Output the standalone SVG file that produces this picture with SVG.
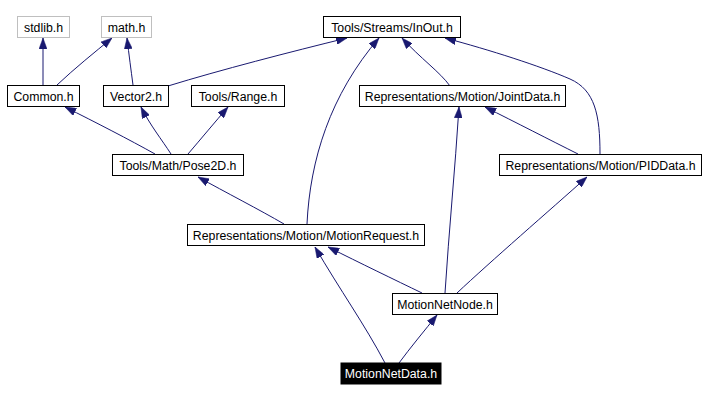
<svg xmlns="http://www.w3.org/2000/svg" width="707" height="401" viewBox="0 0 707 401">
<style>
.n rect{fill:#fff;stroke:#000;stroke-width:1}
.n.ext rect{stroke:#bfbfbf}
.n.cur rect{fill:#000;stroke:#000}
.n text{font-family:"Liberation Sans",Arial,sans-serif;font-size:12.3px;text-anchor:middle;fill:#000}
.n.cur text{fill:#fff}
.e path{fill:none;stroke:#191970;stroke-width:1;marker-end:url(#ah)}
</style>
<defs>
<marker id="ah" markerUnits="userSpaceOnUse" markerWidth="11" markerHeight="8" viewBox="0 0 11 8" refX="11" refY="4" orient="auto">
<path d="M0,0 L11,4 L0,8 z" fill="#191970" stroke="#191970" stroke-width="0.5"/>
</marker>
</defs>
<rect width="707" height="401" fill="#fff"/>
<g id="edges" class="e">
<path d="M43,85 L43,38"/>
<path d="M57,85 C75,68 95,52 112,38"/>
<path d="M133,85 C131,70 129,55 127,38"/>
<path d="M168,86 C220,70 290,52 347,38"/>
<path d="M155,154 C130,140 95,122 65,107"/>
<path d="M171,154 C162,140 150,125 141,107"/>
<path d="M188,154 C200,140 215,122 228,107"/>
<path d="M284,224 C260,210 225,192 198,177"/>
<path d="M307,224 C310,160 330,95 379,38"/>
<path d="M450,86 C440,72 420,58 402,38"/>
<path d="M600,154 C600,115 595,90 570,79 C540,66 490,50 445,38"/>
<path d="M578,154 C550,140 515,122 485,107"/>
<path d="M445,293 C449,230 455,170 459,107"/>
<path d="M457,293 C490,262 550,210 587,177"/>
<path d="M422,293 C395,280 360,263 328,247"/>
<path d="M385,363 C365,325 340,290 315,247"/>
<path d="M399,363 C410,348 425,330 437,315"/>
</g>
<g id="stdlib" class="n ext"><rect x="17.5" y="16.5" width="52" height="21"/><text x="43.5" y="31.5">stdlib.h</text></g>
<g id="math" class="n ext"><rect x="101.5" y="16.5" width="50" height="21"/><text x="126.5" y="31.5">math.h</text></g>
<g id="inout" class="n"><rect x="323.5" y="16.5" width="137" height="21"/><text x="392" y="31.5">Tools/Streams/InOut.h</text></g>
<g id="common" class="n"><rect x="7.5" y="85.5" width="72" height="21"/><text x="43.5" y="100.5">Common.h</text></g>
<g id="vector2" class="n"><rect x="103.5" y="85.5" width="65" height="21"/><text x="136" y="100.5">Vector2.h</text></g>
<g id="range" class="n"><rect x="191.5" y="85.5" width="93" height="21"/><text x="238" y="100.5">Tools/Range.h</text></g>
<g id="jointdata" class="n"><rect x="359.5" y="85.5" width="206" height="21"/><text x="462.5" y="100.5">Representations/Motion/JointData.h</text></g>
<g id="pose2d" class="n"><rect x="112.5" y="154.5" width="131" height="21"/><text x="178" y="169.5">Tools/Math/Pose2D.h</text></g>
<g id="piddata" class="n"><rect x="499.5" y="154.5" width="202" height="21"/><text x="600.5" y="169.5">Representations/Motion/PIDData.h</text></g>
<g id="motionrequest" class="n"><rect x="187.5" y="224.5" width="237" height="21"/><text x="306" y="239.5">Representations/Motion/MotionRequest.h</text></g>
<g id="motionnetnode" class="n"><rect x="392.5" y="293.5" width="105" height="21"/><text x="445" y="308.5">MotionNetNode.h</text></g>
<g id="motionnetdata" class="n cur"><rect x="341" y="363" width="100" height="21"/><text x="391" y="378">MotionNetData.h</text></g>
</svg>
